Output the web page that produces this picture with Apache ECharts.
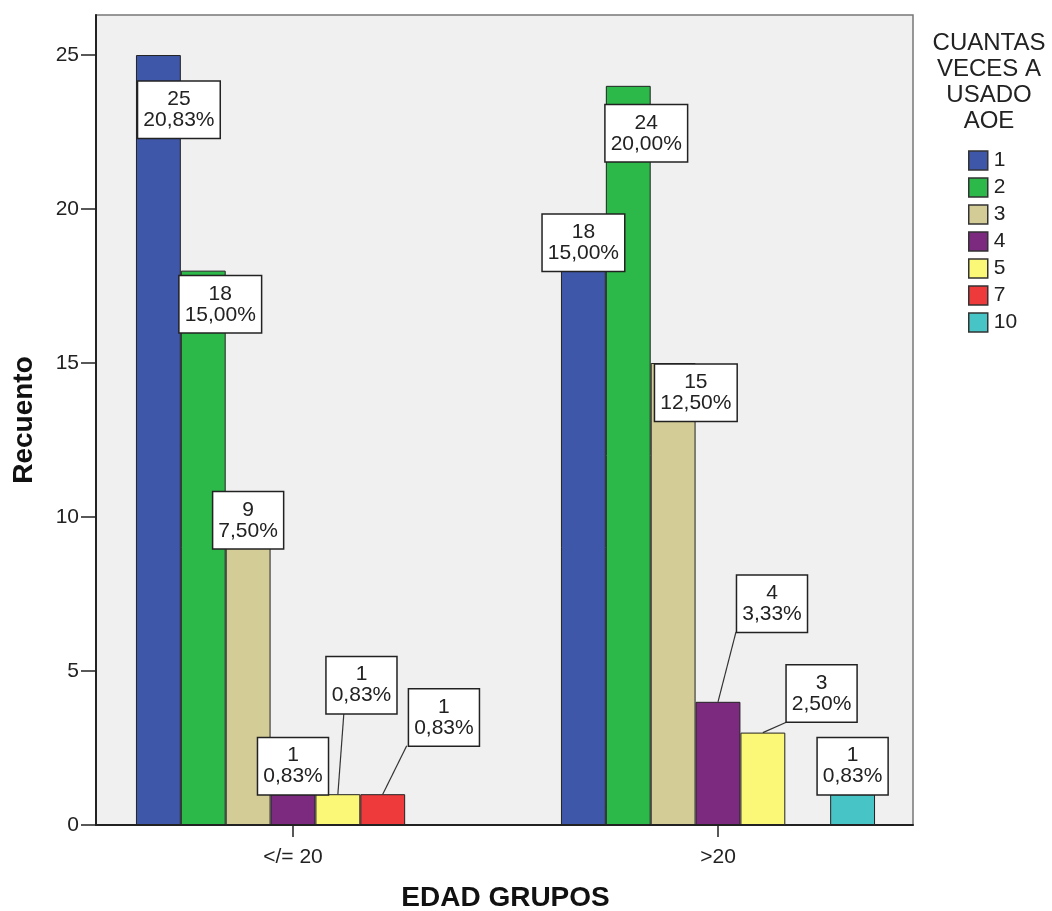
<!DOCTYPE html>
<html>
<head>
<meta charset="utf-8">
<script src="https://cdn.jsdelivr.net/npm/echarts@6/dist/echarts.min.js"></script>
<style>
html,body{margin:0;padding:0;background:#fff;}
#chart{width:1052px;height:911px;}
</style>
</head>
<body>
<div id="chart"></div>
<script>
// ---- data ----
const categories = ['</= 20', '>20'];
const seriesNames = ['1', '2', '3', '4', '5', '7', '10'];
const count1 = [25, 18];
const count2 = [18, 24];
const count3 = [9, 15];
const count4 = [1, 4];
const count5 = [1, 3];
const count7 = [1, null];
const count10 = [null, 1];
const yTicks = [0, 5, 10, 15, 20, 25];
const legendTitle = 'CUANTAS\nVECES A\nUSADO\nAOE';
const xTitle = 'EDAD GRUPOS';
const yTitle = 'Recuento';

// ---- presentation ----
const counts = [count1, count2, count3, count4, count5, count7, count10];
const colors = ['#3f57a8', '#2db84a', '#d3cc97', '#7b2a80', '#fbf777', '#ef3a3b', '#46c4c6'];
// label box shift from default "top" position (per series, per category)
const labelShift = [
  [[20.5, 82.7], [0, 0]],
  [[17, 61.7], [18, 75.5]],
  [[0, 0.5], [22.7, 57.8]],
  [[0, 0], [54, -70]],
  [[23.6, -81], [58.7, -11]],
  [[61.2, -48.7], null],
  [null, [0, 0]]
];
// leader lines: series index, category index, end offset from bar top centre
const leaders = [
  {s: 4, c: 0, d: [6, -81]},
  {s: 5, c: 0, d: [24, -48.5]},
  {s: 3, c: 1, d: [18, -70]},
  {s: 4, c: 1, d: [24, -10.6]}
];
const FONT = 'Liberation Sans, Arial, sans-serif';
const TXT = '#222';
const GAP = 0.261;
const YMAX = 26.3;

let total = 0;
counts.forEach(a => a.forEach(v => { if (v != null) total += v; }));
const pct = v => (v / total * 100).toFixed(2).replace('.', ',') + '%';

const barSeries = seriesNames.map((name, si) => ({
  name: name,
  type: 'bar',
  xAxisIndex: 1,
  yAxisIndex: 1,
  barGap: 0,
  barCategoryGap: (GAP * 100) + '%',
  itemStyle: {color: colors[si], borderColor: '#222', borderWidth: 1},
  z: 3,
  data: counts[si].map((v, ci) => {
    if (v == null) return null;
    const sh = labelShift[si][ci] || [0, 0];
    return {
      value: v,
      label: {
        show: true,
        position: 'top',
        distance: 0,
        offset: sh,
        formatter: () => v + '\n' + pct(v),
        fontFamily: FONT,
        fontSize: 21,
        lineHeight: 21,
        color: TXT,
        align: 'center',
        backgroundColor: '#fff',
        borderColor: '#222',
        borderWidth: 1.5,
        padding: [7, 5, 7, 5]
      }
    };
  })
}));

const leaderSeries = {
  type: 'custom',
  xAxisIndex: 1,
  yAxisIndex: 1,
  z: 2,
  silent: true,
  encode: {x: 0, y: 2},
  data: leaders.map(l => [l.c, l.s, counts[l.s][l.c], l.d[0], l.d[1]]),
  renderItem: function (params, api) {
    const c = api.value(0), s = api.value(1), v = api.value(2);
    const p = api.coord([c, v]);
    const band = api.size([1, 0])[0];
    const n = seriesNames.length;
    const bw = band * (1 - GAP) / n;
    const x0 = p[0] + (s - (n - 1) / 2) * bw;
    const y0 = p[1];
    return {
      type: 'line',
      shape: {x1: x0, y1: y0, x2: x0 + api.value(3), y2: y0 + api.value(4)},
      style: {stroke: '#333', lineWidth: 1.2}
    };
  }
};

const chart = echarts.init(document.getElementById('chart'), null, {renderer: 'canvas'});
chart.setOption({
  animation: false,
  backgroundColor: '#fff',
  textStyle: {fontFamily: FONT},
  title: {
    text: legendTitle,
    left: 989,
    top: 30,
    padding: 0,
    textAlign: 'center',
    textStyle: {fontFamily: FONT, fontSize: 24, lineHeight: 26, fontWeight: 'normal', color: TXT}
  },
  legend: {
    orient: 'vertical',
    left: 963,
    top: 145,
    itemWidth: 19,
    itemHeight: 19,
    itemGap: 6,
    icon: 'rect',
    data: seriesNames,
    itemStyle: {borderColor: '#333', borderWidth: 1.5},
    textStyle: {fontFamily: FONT, fontSize: 21, color: TXT, padding: [0, 0, 0, 1]}
  },
  grid: [
    {left: 96, top: 15, width: 817, height: 810, show: true, backgroundColor: '#f0f0f0', borderColor: '#777', borderWidth: 1.5, containLabel: false, outerBoundsMode: 'none'},
    {left: 80.5, top: 15, width: 850, height: 810, containLabel: false, outerBoundsMode: 'none'}
  ],
  xAxis: [
    {
      type: 'value', gridIndex: 0, min: 0, max: 1,
      axisLine: {show: true, lineStyle: {color: '#222', width: 2}},
      axisTick: {show: false}, axisLabel: {show: false}, splitLine: {show: false}
    },
    {
      type: 'category', gridIndex: 1, data: categories,
      axisLine: {show: false},
      axisTick: {show: true, alignWithLabel: true, length: 12, lineStyle: {color: '#222', width: 1.5}},
      axisLabel: {fontFamily: FONT, fontSize: 21, color: TXT, margin: 22},
      splitLine: {show: false},
      name: xTitle,
      nameLocation: 'middle',
      nameGap: 59,
      nameTextStyle: {fontFamily: FONT, fontSize: 28, fontWeight: 'bold', color: '#111'}
    }
  ],
  yAxis: [
    {
      type: 'value', gridIndex: 0, min: 0, max: YMAX, interval: 5,
      axisLine: {show: true, lineStyle: {color: '#222', width: 2}},
      axisTick: {show: true, length: 15, customValues: yTicks, lineStyle: {color: '#222', width: 1.5}},
      axisLabel: {fontFamily: FONT, fontSize: 21, color: TXT, margin: 17, customValues: yTicks},
      splitLine: {show: false},
      name: yTitle,
      nameLocation: 'middle',
      nameGap: 58,
      nameTextStyle: {fontFamily: FONT, fontSize: 28, fontWeight: 'bold', color: '#111'}
    },
    {
      type: 'value', gridIndex: 1, min: 0, max: YMAX, show: false
    }
  ],
  series: barSeries.concat([leaderSeries])
});
</script>
</body>
</html>
